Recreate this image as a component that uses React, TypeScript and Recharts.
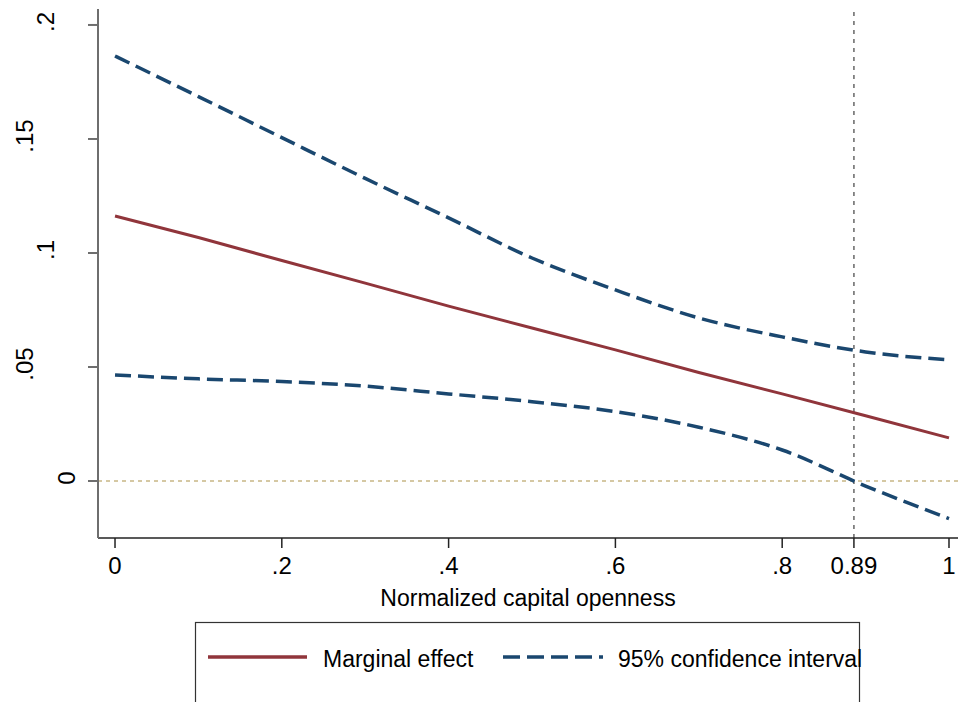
import React from 'react';
import { LineChart, Line, XAxis, YAxis, ReferenceLine } from 'recharts';

const xValues = [0, 0.1, 0.2, 0.3, 0.4, 0.5, 0.6, 0.7, 0.8, 0.9, 1];
const marginalEffect = [0.1162, 0.1068, 0.0967, 0.0868, 0.0767, 0.0671, 0.0575, 0.0476, 0.0382, 0.0286, 0.0189];
const upperCI = [0.1864, 0.1686, 0.1506, 0.1327, 0.1154, 0.0978, 0.0838, 0.0715, 0.0632, 0.0566, 0.0531];
const lowerCI = [0.0465, 0.0448, 0.0436, 0.0416, 0.0382, 0.0348, 0.0304, 0.0236, 0.0136, -0.0022, -0.0165];

const xTicks = [0, 0.2, 0.4, 0.6, 0.8, 0.886, 1];
const xTickLabels = ['0', '.2', '.4', '.6', '.8', '0.89', '1'];
const yTicks = [0, 0.05, 0.1, 0.15, 0.2];
const yTickLabels = ['0', '.05', '.1', '.15', '.2'];
const thresholdX = 0.886;

const xAxisTitle = 'Normalized capital openness';
const legendLabels = ['Marginal effect', '95% confidence interval'];

const RED = '#90353b';
const BLUE = '#1a476f';
const FONT = '"Liberation Sans", Arial, sans-serif';

const data = xValues.map((x, i) => ({ x, me: marginalEffect[i], hi: upperCI[i], lo: lowerCI[i] }));

const YTick = (props: any) => {
  const { x, y, payload } = props;
  const idx = yTicks.indexOf(payload.value);
  const label = idx >= 0 ? yTickLabels[idx] : String(payload.value);
  const bx = x + 8 - 21 * label.length;
  const cy = y - 3;
  return (
    <text
      x={bx}
      y={cy}
      transform={`rotate(-90, ${bx}, ${cy})`}
      textAnchor="middle"
      fontSize={24}
      fontFamily={FONT}
      fill="#000"
    >
      {label}
    </text>
  );
};

export default function App() {
  return (
    <div
      style={{
        position: 'fixed',
        left: 0,
        top: 0,
        width: 958,
        height: 702,
        overflow: 'hidden',
        background: '#fff',
      }}
    >
      <LineChart
        width={958}
        height={702}
        data={data}
        margin={{ top: 9, right: 0, bottom: 0, left: 0 }}
        style={{ position: 'absolute', left: 0, top: 0 }}
      >
        <XAxis
          dataKey="x"
          type="number"
          domain={[-0.0204, 1.0108]}
          allowDataOverflow
          ticks={xTicks}
          tickFormatter={(v: number) => {
            const i = xTicks.indexOf(v);
            return i >= 0 ? xTickLabels[i] : String(v);
          }}
          height={164}
          tickSize={10}
          tickMargin={9}
          stroke="#222"
          strokeWidth={1.5}
          tick={{ fontSize: 24, fontFamily: FONT, fill: '#000' }}
          interval={0}
          label={{
            value: xAxisTitle,
            position: 'insideTop',
            offset: 52,
            fontSize: 23,
            fontFamily: FONT,
            fill: '#000',
          }}
        />
        <YAxis
          type="number"
          domain={[-0.025, 0.207]}
          allowDataOverflow
          ticks={yTicks}
          width={98}
          tickSize={10}
          tickMargin={0}
          stroke="#6e6e6e"
          strokeWidth={2}
          tick={<YTick />}
          interval={0}
        />
        <ReferenceLine y={0} stroke="#c8b785" strokeWidth={1.5} strokeDasharray="4 4" />
        <ReferenceLine x={thresholdX} stroke="#666" strokeWidth={1.5} strokeDasharray="4 5" />
        <Line dataKey="hi" type="monotone" stroke={BLUE} strokeWidth={3.5} strokeDasharray="16 7" dot={false} isAnimationActive={false} />
        <Line dataKey="lo" type="monotone" stroke={BLUE} strokeWidth={3.5} strokeDasharray="16 7" dot={false} isAnimationActive={false} />
        <Line dataKey="me" type="linear" stroke={RED} strokeWidth={3} dot={false} isAnimationActive={false} />
      </LineChart>
      <svg width={958} height={702} style={{ position: 'absolute', left: 0, top: 0, pointerEvents: 'none' }}>
        <rect x={195.5} y={622.5} width={664} height={120} fill="none" stroke="#333" strokeWidth={1.2} />
        <line x1={208} y1={657} x2={307} y2={657} stroke={RED} strokeWidth={3.5} />
        <text x={323} y={667} fontSize={23} fontFamily={FONT} fill="#000">{legendLabels[0]}</text>
        <line x1={503} y1={657} x2={603} y2={657} stroke={BLUE} strokeWidth={3.5} strokeDasharray="17 7" />
        <text x={618} y={667} fontSize={23} fontFamily={FONT} fill="#000">{legendLabels[1]}</text>
      </svg>
    </div>
  );
}
